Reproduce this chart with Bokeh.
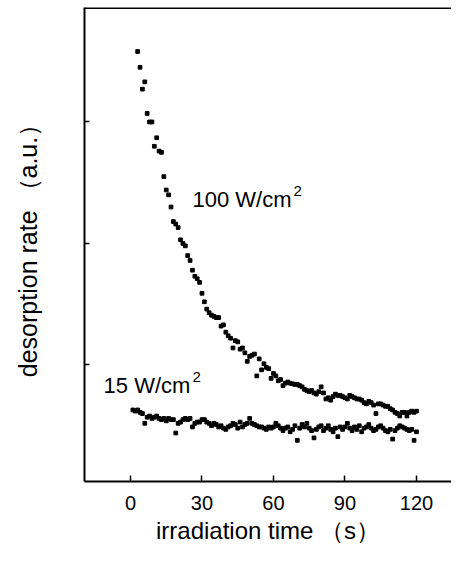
from bokeh.plotting import figure
from bokeh.models import FixedTicker, Label, Span, Range1d
from bokeh.embed import file_html
from bokeh.resources import INLINE

# ---- data ----
t_100 = [3, 4, 5, 6, 7, 8, 9, 10, 11, 12, 13, 14, 15, 16, 17, 18, 19, 20,
         21, 22, 23, 24, 25, 26, 27, 28, 29, 30, 31, 32, 33, 34, 35, 36, 37,
         38, 39, 40, 41, 42, 43, 44, 45, 46, 47, 48, 49, 50, 51, 52, 53, 54,
         55, 56, 57, 58, 59, 60, 61, 62, 63, 64, 65, 66, 67, 68, 69, 70, 71,
         72, 73, 74, 75, 76, 77, 78, 79, 80, 81, 82, 83, 84, 85, 86, 87, 88,
         89, 90, 91, 92, 93, 94, 95, 96, 97, 98, 99, 100, 101, 102, 103, 104,
         105, 106, 107, 108, 109, 110, 111, 112, 113, 114, 115, 116, 117, 118,
         119, 120]
rate_100 = [3.58, 3.45, 3.27, 3.33, 3.07, 3.00, 3.00, 2.80, 2.87, 2.76, 2.75,
            2.55, 2.44, 2.40, 2.30, 2.18, 2.16, 2.13, 2.03, 2.00, 1.98, 1.90,
            1.86, 1.78, 1.73, 1.71, 1.68, 1.59, 1.52, 1.46, 1.43, 1.41, 1.40,
            1.39, 1.39, 1.32, 1.33, 1.27, 1.24, 1.22, 1.14, 1.20, 1.19, 1.13,
            1.14, 1.10, 1.03, 1.07, 1.08, 1.09, 0.91, 1.05, 0.96, 1.01, 0.98,
            0.97, 0.89, 0.93, 0.91, 0.87, 0.88, 0.83, 0.85, 0.86, 0.85, 0.845,
            0.84, 0.84, 0.83, 0.82, 0.80, 0.79, 0.78, 0.79, 0.77, 0.76, 0.78,
            0.82, 0.77, 0.72, 0.73, 0.71, 0.74, 0.76, 0.75, 0.75, 0.74, 0.73,
            0.72, 0.75, 0.74, 0.73, 0.72, 0.72, 0.71, 0.69, 0.68, 0.70, 0.69,
            0.67, 0.60, 0.68, 0.68, 0.67, 0.66, 0.66, 0.64, 0.63, 0.61, 0.60,
            0.58, 0.61, 0.61, 0.58, 0.61, 0.62, 0.61, 0.62]

t_15 = [1, 2, 3, 4, 5, 6, 7, 8, 9, 10, 11, 12, 13, 14, 15, 16, 17, 18, 19, 20,
        21, 22, 23, 24, 25, 26, 27, 28, 29, 30, 31, 32, 33, 34, 35, 36, 37,
        38, 39, 40, 41, 42, 43, 44, 45, 46, 47, 48, 49, 50, 51, 52, 53, 54,
        55, 56, 57, 58, 59, 60, 61, 62, 63, 64, 65, 66, 67, 68, 69, 70, 71,
        72, 73, 74, 75, 76, 77, 78, 79, 80, 81, 82, 83, 84, 85, 86, 87, 88,
        89, 90, 91, 92, 93, 94, 95, 96, 97, 98, 99, 100, 101, 102, 103, 104,
        105, 106, 107, 108, 109, 110, 111, 112, 113, 114, 115, 116, 117, 118,
        119, 120]
rate_15 = [0.63, 0.62, 0.63, 0.61, 0.60, 0.52, 0.57, 0.58, 0.56, 0.57, 0.58,
           0.56, 0.55, 0.56, 0.54, 0.56, 0.55, 0.55, 0.44, 0.52, 0.53, 0.55,
           0.56, 0.55, 0.56, 0.49, 0.52, 0.53, 0.53, 0.55, 0.55, 0.53, 0.52,
           0.50, 0.52, 0.51, 0.49, 0.50, 0.48, 0.47, 0.49, 0.50, 0.52, 0.51,
           0.48, 0.53, 0.49, 0.51, 0.52, 0.56, 0.52, 0.51, 0.50, 0.49, 0.49,
           0.48, 0.47, 0.49, 0.48, 0.49, 0.52, 0.50, 0.48, 0.46, 0.48, 0.49,
           0.45, 0.47, 0.50, 0.38, 0.48, 0.51, 0.49, 0.52, 0.48, 0.46, 0.40,
           0.47, 0.49, 0.50, 0.46, 0.48, 0.50, 0.47, 0.45, 0.48, 0.41, 0.49,
           0.47, 0.49, 0.52, 0.48, 0.46, 0.49, 0.47, 0.50, 0.45, 0.48, 0.49,
           0.51, 0.48, 0.46, 0.47, 0.49, 0.50, 0.48, 0.46, 0.45, 0.47, 0.39,
           0.46, 0.48, 0.50, 0.49, 0.48, 0.47, 0.46, 0.47, 0.38, 0.45]

x_ticks = [0, 30, 60, 90, 120]
y_ticks = [1, 2, 3]
x_range = (-19.3, 134.7)
y_range = (0.041, 3.942)

FONT = "Liberation Sans"

p = figure(width=451, height=557, output_backend="svg", toolbar_location=None,
           x_range=Range1d(*x_range), y_range=Range1d(*y_range),
           min_border_left=84, min_border_right=0, min_border_top=7,
           min_border_bottom=76)
p.outline_line_color = None
p.xgrid.visible = False
p.ygrid.visible = False
p.background_fill_color = "white"
p.border_fill_color = "white"

# x axis
xa = p.xaxis[0]
xa.ticker = FixedTicker(ticks=x_ticks)
xa.major_tick_in = 6
xa.major_tick_out = 0
xa.minor_tick_line_color = None
xa.axis_line_width = 2
xa.major_tick_line_width = 1.5
xa.major_label_text_font = FONT
xa.major_label_text_font_size = "20px"
xa.major_label_text_color = "black"
xa.major_label_standoff = 14
xa.axis_label = "irradiation time （s）"
xa.axis_label_text_font = FONT
xa.axis_label_text_font_size = "24px"
xa.axis_label_text_font_style = "normal"
xa.axis_label_text_color = "black"
xa.axis_label_standoff = 4

# y axis
ya = p.yaxis[0]
ya.ticker = FixedTicker(ticks=y_ticks)
ya.major_label_overrides = {1: "", 2: "", 3: ""}
ya.major_tick_in = 5
ya.major_tick_out = 0
ya.minor_tick_line_color = None
ya.axis_line_width = 2
ya.major_tick_line_width = 1.5
ya.axis_label = "desorption rate （a.u.）"
ya.axis_label_text_font = FONT
ya.axis_label_text_font_size = "25px"
ya.axis_label_text_font_style = "normal"
ya.axis_label_text_color = "black"
ya.axis_label_standoff = 43

# top frame line
p.add_layout(Span(location=y_range[1] - 0.005, dimension="width",
                  line_color="black", line_width=2))

# data
p.scatter(t_100, rate_100, marker="square", size=3.7, color="black")
p.scatter(t_15, rate_15, marker="square", size=3.7, color="black")

# labels
p.add_layout(Label(x=26, y=2.36, text="100 W/cm", text_font=FONT,
                   text_font_size="22px", text_baseline="alphabetic",
                   text_color="black"))
p.add_layout(Label(x=26, y=2.36, x_offset=101, y_offset=9, text="2",
                   text_font=FONT, text_font_size="15px",
                   text_baseline="alphabetic", text_color="black"))
p.add_layout(Label(x=-11.3, y=0.83, text="15 W/cm", text_font=FONT,
                   text_font_size="22px", text_baseline="alphabetic",
                   text_color="black"))
p.add_layout(Label(x=-11.3, y=0.83, x_offset=89, y_offset=9, text="2",
                   text_font=FONT, text_font_size="15px",
                   text_baseline="alphabetic", text_color="black"))

open("out.html", "w").write(file_html(p, INLINE))
